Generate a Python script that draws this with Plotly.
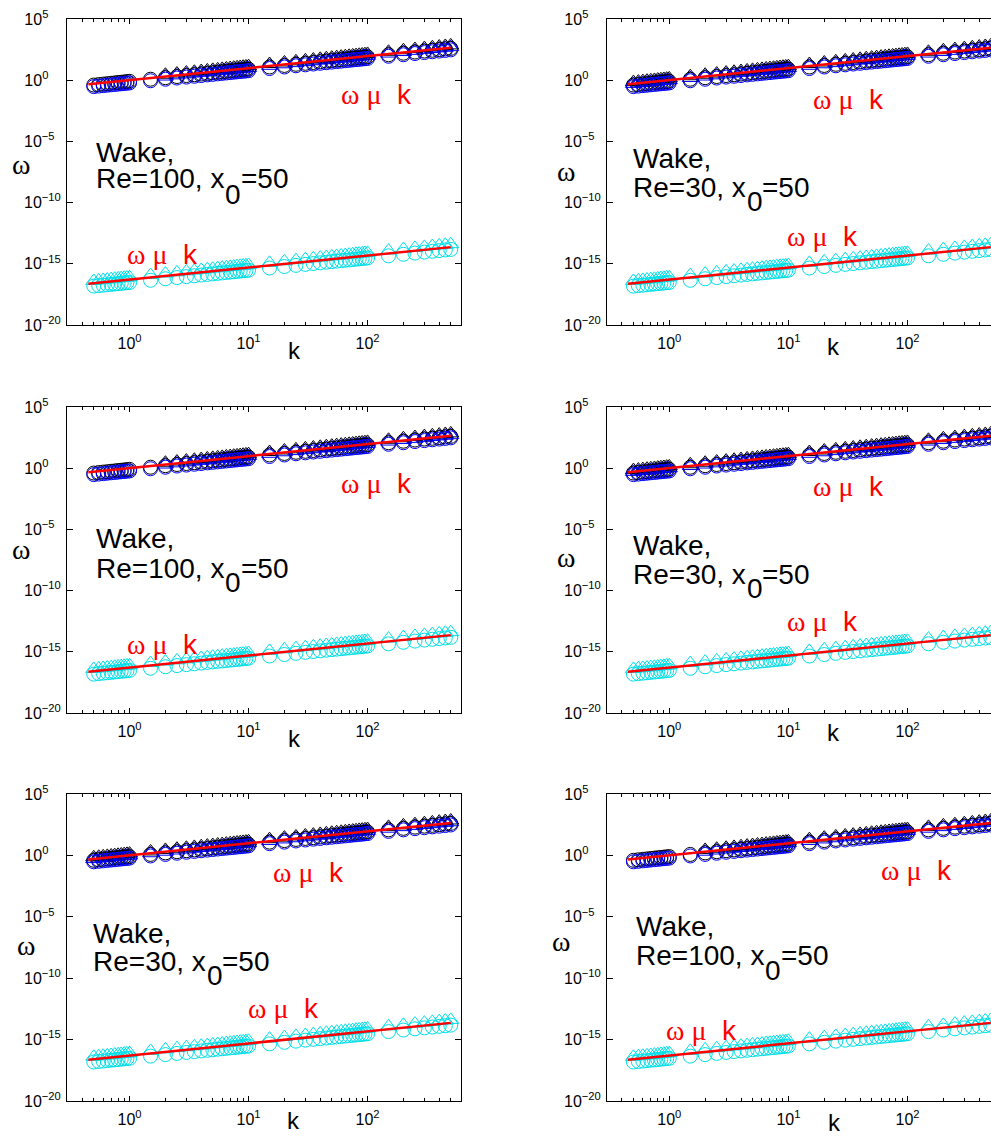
import plotly.graph_objects as go

# ---------------- data ----------------
K = [0.5, 0.55, 0.6, 0.65, 0.7, 0.75, 0.8, 0.85, 0.9, 0.95, 1.0,
     1.5, 2, 2.5, 3, 3.5, 4, 4.5, 5, 5.5, 6, 6.5, 7, 7.5, 8, 8.5, 9, 9.5, 10,
     15, 20, 25, 30, 35, 40, 45, 50, 55, 60, 65, 70, 75, 80, 85, 90, 95, 100,
     150, 200, 250, 300, 350, 400, 450, 500]

W_BLUE_CIRC = [0.3, 0.33, 0.36, 0.39, 0.42, 0.45, 0.48, 0.51, 0.54, 0.57, 0.6,
               0.9, 1.2, 1.5, 1.8, 2.1, 2.4, 2.7, 3, 3.3, 3.6, 3.9, 4.2, 4.5, 4.8, 5.1, 5.4, 5.7, 6,
               9, 12, 15, 18, 21, 24, 27, 30, 33, 36, 39, 42, 45, 48, 51, 54, 57, 60,
               90, 120, 150, 180, 210, 240, 270, 300]

W_BLACK_CIRC = [0.4, 0.44, 0.48, 0.52, 0.56, 0.6, 0.64, 0.68, 0.72, 0.76, 0.8,
                1.2, 1.6, 2, 2.4, 2.8, 3.2, 3.6, 4, 4.4, 4.8, 5.2, 5.6, 6, 6.4, 6.8, 7.2, 7.6, 8,
                12, 16, 20, 24, 28, 32, 36, 40, 44, 48, 52, 56, 60, 64, 68, 72, 76, 80,
                120, 160, 200, 240, 280, 320, 360, 400]

W_BLUE_TRI = [0.5, 0.55, 0.6, 0.65, 0.7, 0.75, 0.8, 0.85, 0.9, 0.95, 1.0,
              1.5, 2, 2.5, 3, 3.5, 4, 4.5, 5, 5.5, 6, 6.5, 7, 7.5, 8, 8.5, 9, 9.5, 10,
              15, 20, 25, 30, 35, 40, 45, 50, 55, 60, 65, 70, 75, 80, 85, 90, 95, 100,
              150, 200, 250, 300, 350, 400, 450, 500]

W_BLACK_TRI = [0.7, 0.77, 0.84, 0.91, 0.98, 1.05, 1.12, 1.19, 1.26, 1.33, 1.4,
               2.1, 2.8, 3.5, 4.2, 4.9, 5.6, 6.3, 7, 7.7, 8.4, 9.1, 9.8, 10.5, 11.2, 11.9, 12.6, 13.3, 14,
               21, 28, 35, 42, 49, 56, 63, 70, 77, 84, 91, 98, 105, 112, 119, 126, 133, 140,
               210, 280, 350, 420, 490, 560, 630, 700]

W_CYAN_TRI = [4e-17, 4.4e-17, 4.8e-17, 5.2e-17, 5.6e-17, 6e-17, 6.4e-17, 6.8e-17, 7.2e-17, 7.6e-17, 8e-17,
              1.2e-16, 1.6e-16, 2e-16, 2.4e-16, 2.8e-16, 3.2e-16, 3.6e-16, 4e-16, 4.4e-16, 4.8e-16,
              5.2e-16, 5.6e-16, 6e-16, 6.4e-16, 6.8e-16, 7.2e-16, 7.6e-16, 8e-16,
              1.2e-15, 1.6e-15, 2e-15, 2.4e-15, 2.8e-15, 3.2e-15, 3.6e-15, 4e-15, 4.4e-15, 4.8e-15,
              5.2e-15, 5.6e-15, 6e-15, 6.4e-15, 6.8e-15, 7.2e-15, 7.6e-15, 8e-15,
              1.2e-14, 1.6e-14, 2e-14, 2.4e-14, 2.8e-14, 3.2e-14, 3.6e-14, 4e-14]

W_CYAN_CIRC = [1.5e-17, 1.65e-17, 1.8e-17, 1.95e-17, 2.1e-17, 2.25e-17, 2.4e-17, 2.55e-17, 2.7e-17, 2.85e-17, 3e-17,
               4.5e-17, 6e-17, 7.5e-17, 9e-17, 1.05e-16, 1.2e-16, 1.35e-16, 1.5e-16, 1.65e-16, 1.8e-16,
               1.95e-16, 2.1e-16, 2.25e-16, 2.4e-16, 2.55e-16, 2.7e-16, 2.85e-16, 3e-16,
               4.5e-16, 6e-16, 7.5e-16, 9e-16, 1.05e-15, 1.2e-15, 1.35e-15, 1.5e-15, 1.65e-15, 1.8e-15,
               1.95e-15, 2.1e-15, 2.25e-15, 2.4e-15, 2.55e-15, 2.7e-15, 2.85e-15, 3e-15,
               4.5e-15, 6e-15, 7.5e-15, 9e-15, 1.05e-14, 1.2e-14, 1.35e-14, 1.5e-14]

LINE_K = [0.45, 500]
LINE_UPPER = [0.47, 440]
LINE_LOWER = [2.3e-17, 2.3e-14]

PANEL_RE = ["100", "30", "100", "30", "30", "100"]
TRI_START_K = {"100": 2, "30": 0.5}

NB = "\u00a0"
X_TICKVALS = [1, 10, 100]
X_TICKTEXT = ["10<sup>0</sup>", "10<sup>1</sup>", "10<sup>2</sup>"]
X_MINOR = [0.4, 0.5, 0.6, 0.7, 0.8, 0.9, 2, 3, 4, 5, 6, 7, 8, 9,
           20, 30, 40, 50, 60, 70, 80, 90, 200, 300, 400, 500, 600]
Y_TICKVALS = [1e-20, 1e-15, 1e-10, 1e-5, 1, 1e5]
Y_TICKTEXT = ["10<sup>\u221220</sup>", "10<sup>\u221215</sup>", "10<sup>\u221210</sup>",
              "10<sup>\u22125" + NB * 2 + "</sup>", "10<sup>0" + NB * 4 + "</sup>",
              "10<sup>5" + NB * 4 + "</sup>"]

# ---------------- layout geometry (pixels) ----------------
W, H = 991, 1137
COL_X = [(67, 461), (607, 991)]
COL_XRANGE = [[-0.526, 2.785], [-0.523, 2.701]]
ROW_Y = [(19, 325), (407, 713), (794, 1101)]

FS_TXT = 28
FS_RED = 28
FS_OM = 28
FS_K = 24
FS_TICK = 16
MK = 14

PANELS = [
    dict(r=0, c=0, wx=95, wb=(162, 188, 204), up=(376, 95), low=(162, 255), om=(21, 165), kl=(294, 350)),
    dict(r=0, c=1, wx=632, wb=(168, 197, 211), up=(848, 99), low=(822, 236), om=(566, 171), kl=(833, 346)),
    dict(r=1, c=0, wx=95, wb=(548, 578, 592), up=(376, 483), low=(162, 644), om=(21, 549), kl=(294, 738)),
    dict(r=1, c=1, wx=632, wb=(555, 584, 598), up=(848, 487), low=(822, 621), om=(566, 557), kl=(833, 732)),
    dict(r=2, c=0, wx=92, wb=(943, 971, 985), up=(308, 873), low=(283, 1008), om=(26, 945), kl=(293, 1120)),
    dict(r=2, c=1, wx=635, wb=(936, 965, 980), up=(916, 870), low=(701, 1030), om=(561, 941), kl=(834, 1122)),
]

CHAR_W = {"R": 0.722, "e": 0.556, "=": 0.584, "0": 0.556, "1": 0.556, "3": 0.556,
          ",": 0.278, " ": 0.278, "x": 0.5}


def px(x):
    return x / W


def py(y):
    return 1 - y / H


def text_w(s, fs):
    return sum(CHAR_W[ch] for ch in s) * fs


BLUE = "#0000FF"
BLACK = "#000000"
CYAN = "rgb(0,222,232)"
RED = "#FF0000"
SANS = "Liberation Sans, Arial, sans-serif"
SERIF = "Liberation Serif, Times New Roman, serif"

fig = go.Figure()
layout = dict(width=W, height=H, autosize=False,
              margin=dict(l=0, r=0, t=0, b=0, pad=0, autoexpand=False),
              paper_bgcolor="white", plot_bgcolor="white", showlegend=False,
              font=dict(family=SANS, color="black", size=FS_TICK))
annotations = []

for i, p in enumerate(PANELS):
    n = i + 1
    xa = "x" if n == 1 else f"x{n}"
    ya = "y" if n == 1 else f"y{n}"
    re = PANEL_RE[i]
    t0 = TRI_START_K[re]
    tri_idx = [j for j, k in enumerate(K) if k >= t0]
    tri_k = [K[j] for j in tri_idx]

    def add(xs, ys, symbol, color, size, name):
        fig.add_trace(go.Scatter(x=xs, y=ys, mode="markers", xaxis=xa, yaxis=ya, name=name,
                                 marker=dict(symbol=symbol, size=size, color=color,
                                             line=dict(width=1, color=color))))

    add(K, W_CYAN_CIRC, "circle-open", CYAN, MK, "cyan circles")
    add(K, W_CYAN_TRI, "triangle-up-open", CYAN, MK, "cyan triangles")
    add(tri_k, [W_BLACK_TRI[j] for j in tri_idx], "triangle-up-open", BLACK, MK, "black triangles")
    add(tri_k, [W_BLUE_TRI[j] for j in tri_idx], "triangle-up-open", BLUE, MK, "blue triangles")
    add(K, W_BLACK_CIRC, "circle-open", BLACK, MK, "black circles")
    add(K, W_BLUE_CIRC, "circle-open", BLUE, MK, "blue circles")
    for ly in (LINE_UPPER, LINE_LOWER):
        fig.add_trace(go.Scatter(x=LINE_K, y=ly, mode="lines", xaxis=xa, yaxis=ya,
                                 line=dict(color=RED, width=2.5), name="fit"))

    x0, x1 = COL_X[p["c"]]
    y0, y1 = ROW_Y[p["r"]]
    right_col = p["c"] == 1
    layout["xaxis" if n == 1 else f"xaxis{n}"] = dict(
        type="log", range=COL_XRANGE[p["c"]], domain=[px(x0), px(x1)], anchor=ya,
        automargin=False,
        showline=True, linecolor="black", linewidth=1, mirror="ticks",
        ticks="inside", ticklen=5, tickcolor="black", tickwidth=1,
        tickvals=X_TICKVALS, ticktext=X_TICKTEXT, showgrid=False, zeroline=False,
        tickfont=dict(size=FS_TICK, family=SANS, color="black"), ticklabelstandoff=4,
        minor=dict(tickvals=X_MINOR, ticks="inside", ticklen=3, tickcolor="black", showgrid=False),
    )
    layout["yaxis" if n == 1 else f"yaxis{n}"] = dict(
        type="log", range=[-20, 5], domain=[py(y1), py(y0)], anchor=xa,
        automargin=False,
        showline=True, linecolor="black", linewidth=1,
        mirror=False if right_col else "ticks",
        ticks="inside", ticklen=6, tickcolor="black", tickwidth=1,
        tickvals=Y_TICKVALS, ticktext=Y_TICKTEXT, showgrid=False, zeroline=False,
        tickfont=dict(size=FS_TICK, family=SANS, color="black"), ticklabelstandoff=2,
    )

    def ann(text, x, y, size, color="black", xanchor="center", family=SANS):
        annotations.append(dict(text=text, x=px(x), y=py(y), xref="paper", yref="paper",
                                xanchor=xanchor, yanchor="middle", showarrow=False,
                                borderpad=0, font=dict(size=size, color=color, family=family)))

    wx = p["wx"]
    wb, rb, sb = p["wb"]
    shift = 0.3465 * FS_TXT
    re_txt = f"Re={re}, x"
    ann("Wake,", wx, wb - shift, FS_TXT, xanchor="left")
    ann(re_txt, wx, rb - shift, FS_TXT, xanchor="left")
    xs = wx + text_w(re_txt, FS_TXT) + 1
    ann("0", xs, sb - shift, FS_TXT, xanchor="left")
    ann("=50", xs + text_w("0", FS_TXT), rb - shift, FS_TXT, xanchor="left")

    red = f"<span style='font-family:{SERIF}'>\u03c9 \u03bc</span>{NB} k"
    ann(red, p["up"][0], p["up"][1], FS_RED, color=RED)
    ann(red, p["low"][0], p["low"][1], FS_RED, color=RED)
    ann("\u03c9", p["om"][0], p["om"][1], FS_OM, family=SERIF)
    ann("k", p["kl"][0], p["kl"][1], FS_K)

layout["annotations"] = annotations
fig.update_layout(**layout)
fig.write_html("out.html")
